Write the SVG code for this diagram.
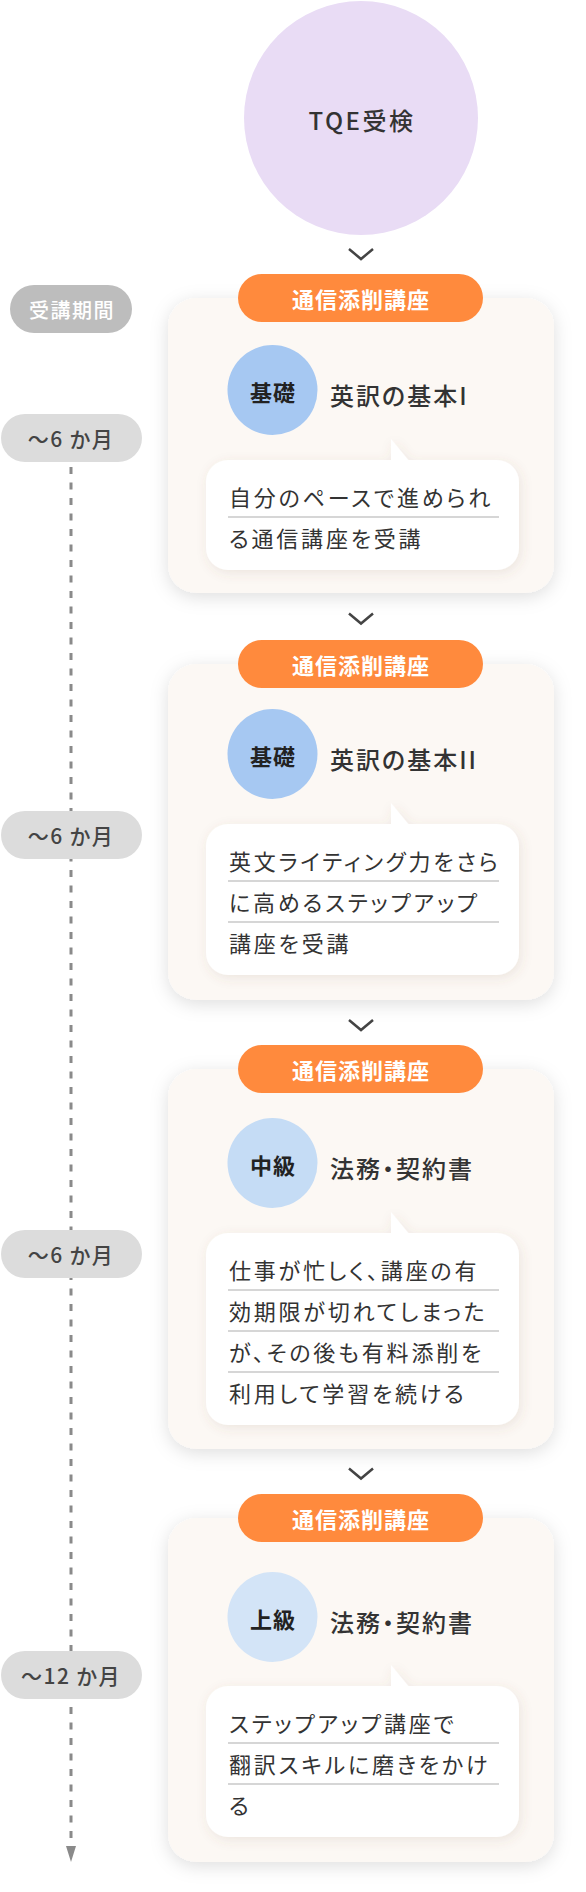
<svg xmlns="http://www.w3.org/2000/svg" width="586" height="1892" viewBox="0 0 586 1892">
<defs>
<filter id="sh" x="-20%" y="-20%" width="140%" height="140%">
<feDropShadow dx="0" dy="4" stdDeviation="9" flood-color="#000" flood-opacity="0.13"/>
</filter>
<filter id="sh2" x="-20%" y="-20%" width="140%" height="140%">
<feDropShadow dx="2" dy="3" stdDeviation="6" flood-color="#7a5a40" flood-opacity="0.12"/>
</filter>
<marker id="arr" viewBox="0 0 16 10" refX="0" refY="5" markerWidth="16" markerHeight="10" markerUnits="userSpaceOnUse" orient="auto">
<path d="M0 0 L16 5 L0 10 Z" fill="#8a8a8a"/>
</marker>
</defs>
<style>
text{font-family:'Noto Sans CJK JP','Noto Sans',sans-serif;font-feature-settings:"palt";dominant-baseline:central}
.card{fill:#fcf8f4}
.bub{fill:#fff}
.pill{fill:#ff8a3d}
.pt{fill:#fff;font-size:22px;font-weight:700;letter-spacing:1px;text-anchor:middle}
.lvl{font-weight:700;font-size:22px;fill:#222;text-anchor:middle;letter-spacing:1px}
.ttl{font-size:24px;font-weight:500;letter-spacing:2px;fill:#333}
.body{font-size:22px;letter-spacing:2.8px;fill:#333}
.rule{stroke:#c9c9c9;stroke-width:1.5}
.chev{fill:none;stroke:#444;stroke-width:2.5}
.dur{fill:#dcdcdc}
.dt{font-size:21px;font-weight:500;fill:#444;letter-spacing:1.5px;text-anchor:middle}
</style>

<g id="connectors">
<line x1="71" y1="467" x2="71" y2="1846" stroke="#8a8a8a" stroke-width="3" stroke-dasharray="7 8.5" marker-end="url(#arr)"/>
<path class="chev" d="M349 249 L361 259 L373 249"/>
<path class="chev" d="M349 613.5 L361 623.5 L373 613.5"/>
<path class="chev" d="M349 1020 L361 1030 L373 1020"/>
<path class="chev" d="M349 1468.5 L361 1478.5 L373 1468.5"/>
</g>

<g id="start">
<circle cx="361" cy="118" r="117" fill="#e9dcf5"/>
<text x="362" y="119" font-size="24" font-weight="500" fill="#333" letter-spacing="2.5" text-anchor="middle">TQE受検</text>
</g>

<g id="period-label">
<rect x="10" y="285" width="122" height="48" rx="24" fill="#bdbdbd"/>
<text x="72" y="309" font-size="20" font-weight="500" fill="#fff" letter-spacing="1.5" text-anchor="middle">受講期間</text>
</g>

<g id="dur1"><rect class="dur" x="1" y="414" width="141" height="48" rx="24"/><text class="dt" x="71" y="438">〜6 か月</text></g>
<g id="dur2"><rect class="dur" x="1" y="811" width="141" height="48" rx="24"/><text class="dt" x="71" y="835">〜6 か月</text></g>
<g id="dur3"><rect class="dur" x="1" y="1230" width="141" height="48" rx="24"/><text class="dt" x="71" y="1254">〜6 か月</text></g>
<g id="dur4"><rect class="dur" x="1" y="1651" width="141" height="48" rx="24"/><text class="dt" x="71" y="1675">〜12 か月</text></g>

<g id="course1">
<rect class="card" x="168" y="298" width="386" height="295" rx="28" filter="url(#sh)"/>
<rect class="pill" x="238" y="274" width="245" height="48" rx="24"/>
<text class="pt" x="361" y="298">通信添削講座</text>
<circle cx="272.5" cy="390" r="45" fill="#a6c8f2"/>
<text class="lvl" x="273" y="391">基礎</text>
<text class="ttl" x="330" y="394">英訳の基本I</text>
<g filter="url(#sh2)"><rect class="bub" x="206" y="460" width="313" height="110" rx="22"/><path class="bub" d="M391 439 L391 462 L410 462 Z"/></g>
<text class="body" x="229" y="496">自分のペースで進められ</text>
<line class="rule" x1="228" y1="517" x2="499" y2="517"/>
<text class="body" x="229" y="537">る通信講座を受講</text>
</g>

<g id="course2">
<rect class="card" x="168" y="664" width="386" height="336" rx="28" filter="url(#sh)"/>
<rect class="pill" x="238" y="640" width="245" height="48" rx="24"/>
<text class="pt" x="361" y="664">通信添削講座</text>
<circle cx="272.5" cy="754" r="45" fill="#a6c8f2"/>
<text class="lvl" x="273" y="755">基礎</text>
<text class="ttl" x="330" y="758">英訳の基本II</text>
<g filter="url(#sh2)"><rect class="bub" x="206" y="824" width="313" height="151" rx="22"/><path class="bub" d="M391 803 L391 826 L410 826 Z"/></g>
<text class="body" x="229" y="860">英文ライティング力をさら</text>
<line class="rule" x1="228" y1="881" x2="499" y2="881"/>
<text class="body" x="229" y="901">に高めるステップアップ</text>
<line class="rule" x1="228" y1="922" x2="499" y2="922"/>
<text class="body" x="229" y="942">講座を受講</text>
</g>

<g id="course3">
<rect class="card" x="168" y="1069" width="386" height="380" rx="28" filter="url(#sh)"/>
<rect class="pill" x="238" y="1045" width="245" height="48" rx="24"/>
<text class="pt" x="361" y="1069">通信添削講座</text>
<circle cx="272.5" cy="1163" r="45" fill="#c5dcf5"/>
<text class="lvl" x="273" y="1164">中級</text>
<text class="ttl" x="330" y="1167">法務・契約書</text>
<g filter="url(#sh2)"><rect class="bub" x="206" y="1233" width="313" height="192" rx="22"/><path class="bub" d="M391 1212 L391 1235 L410 1235 Z"/></g>
<text class="body" x="229" y="1269">仕事が忙しく、講座の有</text>
<line class="rule" x1="228" y1="1290" x2="499" y2="1290"/>
<text class="body" x="229" y="1310">効期限が切れてしまった</text>
<line class="rule" x1="228" y1="1331" x2="499" y2="1331"/>
<text class="body" x="229" y="1351">が、その後も有料添削を</text>
<line class="rule" x1="228" y1="1372" x2="499" y2="1372"/>
<text class="body" x="229" y="1392">利用して学習を続ける</text>
</g>

<g id="course4">
<rect class="card" x="168" y="1518" width="386" height="344" rx="28" filter="url(#sh)"/>
<rect class="pill" x="238" y="1494" width="245" height="48" rx="24"/>
<text class="pt" x="361" y="1518">通信添削講座</text>
<circle cx="272.5" cy="1617" r="45" fill="#d3e4f7"/>
<text class="lvl" x="273" y="1618">上級</text>
<text class="ttl" x="330" y="1621">法務・契約書</text>
<g filter="url(#sh2)"><rect class="bub" x="206" y="1686" width="313" height="151" rx="22"/><path class="bub" d="M391 1665 L391 1688 L410 1688 Z"/></g>
<text class="body" x="229" y="1722">ステップアップ講座で</text>
<line class="rule" x1="228" y1="1743" x2="499" y2="1743"/>
<text class="body" x="229" y="1763">翻訳スキルに磨きをかけ</text>
<line class="rule" x1="228" y1="1784" x2="499" y2="1784"/>
<text class="body" x="229" y="1804">る</text>
</g>
</svg>
